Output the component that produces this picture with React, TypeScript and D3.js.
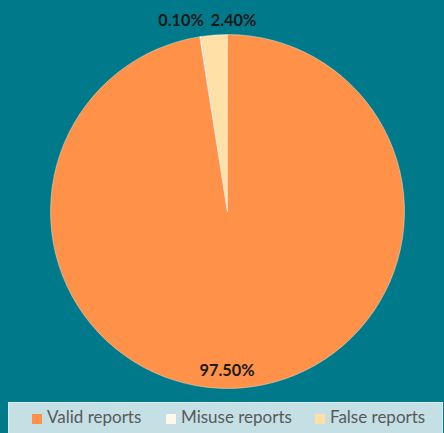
import React from 'react'
import * as d3 from 'd3'

const categories = ['Valid reports', 'Misuse reports', 'False reports']
const values = [97.5, 0.1, 2.4]
const labels = ['97.50%', '0.10%', '2.40%']
const colors = ['#ff9248', '#fff7ea', '#ffe0a6']

const width = 444
const height = 433

export default function App() {
  const cx = 227.5
  const cy = 211.5
  const r = 177

  const pie = d3.pie<number>().sort(null).value(d => d)
  const arcs = pie(values)
  const arc = d3.arc<d3.PieArcDatum<number>>().innerRadius(0).outerRadius(r)

  // label spots, picked by eye from the original
  const labelPos = [
    [227, 372],
    [181, 22],
    [233.5, 22],
  ]

  const legendX = [32, 166, 315]

  return (
    <svg width={width} height={height} style={{ position: 'absolute', left: 0, top: 0 }}>
      <rect x={0} y={0} width={width} height={height} fill="#007a8a" />
      <g transform={`translate(${cx},${cy})`}>
        {arcs.map((a, i) => (
          <path key={i} d={arc(a) || ''} fill={colors[i]} stroke="#f4f4f0" strokeWidth={0.4} />
        ))}
      </g>
      {labels.map((t, i) => (
        <text
          key={i}
          x={labelPos[i][0]}
          y={labelPos[i][1]}
          textAnchor="middle"
          dominantBaseline="middle"
          fontFamily="Lato, sans-serif"
          fontWeight="bold"
          fontSize={16.3}
          fill="#1a1a1a"
        >
          {t}
        </text>
      ))}
      <rect x={8.5} y={402.5} width={434} height={32} fill="#c4e0e4" stroke="#d6ecee" />
      {categories.map((c, i) => (
        <g key={c}>
          <rect x={legendX[i]} y={414} width={10} height={10} fill={colors[i]} />
          <text
            x={legendX[i] + 15}
            y={419}
            dominantBaseline="middle"
            fontFamily="Lato, sans-serif"
            fontSize={17}
            fill="#595959"
          >
            {c}
          </text>
        </g>
      ))}
    </svg>
  )
}
